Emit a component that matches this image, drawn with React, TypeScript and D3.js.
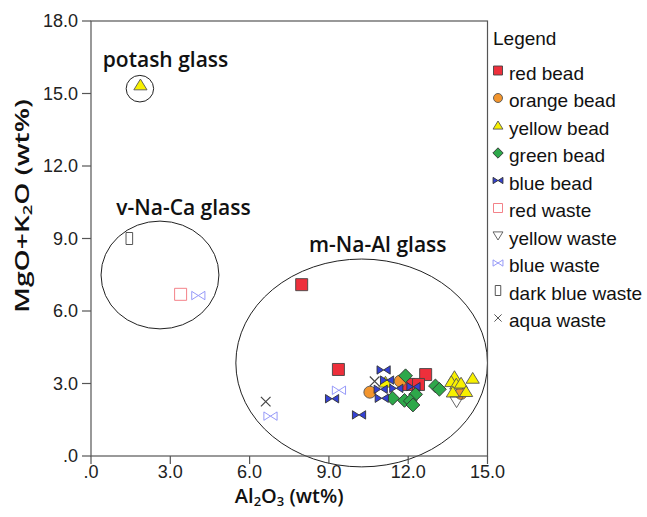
import React from 'react';
import * as d3 from 'd3';

// Al2O3 vs MgO+K2O scatter with glass-type ellipses.

const W = 647;
const H = 517;
const M = { left: 91, right: 487.5, top: 21, bottom: 456 };

type Pt = [number, number];

const RED_BEAD: Pt[] = [[7.97, 7.09], [9.36, 3.58], [12.66, 3.37], [12.01, 2.96], [12.39, 2.96]];
const ORANGE_BEAD: Pt[] = [[10.55, 2.64], [11.7, 3.1], [14.0, 2.59]];
const YELLOW_BEAD: Pt[] = [
  [1.87, 15.35], [13.75, 3.28], [14.44, 3.21], [13.63, 3.07], [13.82, 2.97],
  [14.0, 3.01], [13.69, 2.64], [14.19, 2.66], [11.14, 3.05],
];
const GREEN_BEAD: Pt[] = [
  [11.9, 3.32], [11.41, 2.39], [12.28, 2.55], [11.86, 2.3], [12.08, 2.28],
  [12.18, 2.11], [13.03, 2.9], [13.18, 2.76],
];
const BLUE_BEAD: Pt[] = [
  [9.12, 2.37], [10.14, 1.7], [11.07, 3.56], [11.2, 3.14], [10.96, 2.76],
  [11.55, 2.8], [11.0, 2.39], [12.2, 2.87],
];
const RED_WASTE: Pt[] = [[3.39, 6.69]];
const YELLOW_WASTE: Pt[] = [[13.83, 2.25]];
const BLUE_WASTE: Pt[] = [[4.06, 6.64], [9.38, 2.72], [6.79, 1.65]];
const DARK_BLUE_WASTE: Pt[] = [[1.45, 9.0]];
const AQUA_WASTE: Pt[] = [[6.61, 2.25], [10.73, 3.09]];

const X_TICKS = [0, 3, 6, 9, 12, 15];
const Y_TICKS = [0, 3, 6, 9, 12, 15, 18];

// glass groups: centre x, centre y, radius x, radius y (data units), label anchor
const GROUPS = [
  { label: 'potash glass', cx: 1.85, cy: 15.2, rx: 0.52, ry: 0.55, lx: 2.82, ly: 16.08 },
  { label: 'v-Na-Ca glass', cx: 2.61, cy: 7.49, rx: 2.23, ry: 2.23, lx: 3.5, ly: 9.97 },
  { label: 'm-Na-Al glass', cx: 10.24, cy: 3.85, rx: 4.76, ry: 4.3, lx: 10.85, ly: 8.45 },
];

type Kind = 'square' | 'circle' | 'triangle' | 'diamond' | 'bowtie' | 'openSquare' | 'invTriangle' | 'openBowtie' | 'tallRect' | 'cross';

const SERIES: { name: string; data: Pt[]; kind: Kind; fill: string; stroke: string }[] = [
  { name: 'red bead', data: RED_BEAD, kind: 'square', fill: '#ee2f3b', stroke: '#444' },
  { name: 'orange bead', data: ORANGE_BEAD, kind: 'circle', fill: '#f3952d', stroke: '#555' },
  { name: 'yellow bead', data: YELLOW_BEAD, kind: 'triangle', fill: '#f7f000', stroke: '#555' },
  { name: 'green bead', data: GREEN_BEAD, kind: 'diamond', fill: '#2ea84a', stroke: '#333' },
  { name: 'blue bead', data: BLUE_BEAD, kind: 'bowtie', fill: '#3441d4', stroke: '#333' },
  { name: 'red waste', data: RED_WASTE, kind: 'openSquare', fill: 'none', stroke: '#f2747c' },
  { name: 'yellow waste', data: YELLOW_WASTE, kind: 'invTriangle', fill: 'none', stroke: '#555' },
  { name: 'blue waste', data: BLUE_WASTE, kind: 'openBowtie', fill: 'none', stroke: '#8b8ff7' },
  { name: 'dark blue waste', data: DARK_BLUE_WASTE, kind: 'tallRect', fill: 'none', stroke: '#444' },
  { name: 'aqua waste', data: AQUA_WASTE, kind: 'cross', fill: 'none', stroke: '#444' },
];

function shapePath(kind: Kind, s: number): string {
  const h = s / 2;
  switch (kind) {
    case 'square':
    case 'openSquare':
      return `M${-h},${-h}H${h}V${h}H${-h}Z`;
    case 'circle':
      return `M${h},0A${h},${h} 0 1,1 ${-h},0A${h},${h} 0 1,1 ${h},0Z`;
    case 'triangle':
      return `M0,${-h}L${h * 1.1},${h * 0.8}H${-h * 1.1}Z`;
    case 'invTriangle':
      return `M0,${h}L${h * 1.1},${-h * 0.8}H${-h * 1.1}Z`;
    case 'diamond':
      return `M0,${-h * 1.15}L${h * 1.15},0L0,${h * 1.15}L${-h * 1.15},0Z`;
    case 'bowtie':
    case 'openBowtie':
      return `M${-h * 1.1},${-h * 0.7}L0,0L${-h * 1.1},${h * 0.7}ZM${h * 1.1},${-h * 0.7}L0,0L${h * 1.1},${h * 0.7}Z`;
    case 'tallRect':
      return `M${-h * 0.55},${-h}H${h * 0.55}V${h}H${-h * 0.55}Z`;
    case 'cross':
      return `M${-h * 0.8},${-h * 0.8}L${h * 0.8},${h * 0.8}M${h * 0.8},${-h * 0.8}L${-h * 0.8},${h * 0.8}`;
  }
}

const TICK_FONT = '"Liberation Sans", Arial, sans-serif';
const TITLE_FONT = '"Open Sans", "Noto Sans", sans-serif';

export default function App() {
  const x = d3.scaleLinear().domain([0, 15]).range([M.left, M.right]);
  const y = d3.scaleLinear().domain([0, 18]).range([M.bottom, M.top]);
  const fmt = (v: number) => (v === 0 ? '.0' : v.toFixed(1));

  return (
    <svg
      width={W}
      height={H}
      style={{ position: 'absolute', left: 0, top: 0, background: '#fff' }}
    >
      {/* ellipses */}
      {GROUPS.map((g) => (
        <g key={g.label}>
          <ellipse
            cx={x(g.cx)}
            cy={y(g.cy)}
            rx={x(g.cx + g.rx) - x(g.cx)}
            ry={y(g.cy) - y(g.cy + g.ry)}
            fill="none"
            stroke="#222"
            strokeWidth={1}
          />
          <text
            x={x(g.lx)}
            y={y(g.ly)}
            textAnchor="middle"
            fontFamily={TITLE_FONT}
            fontWeight={600}
            fontSize={21}
            fill="#111"
          >
            {g.label}
          </text>
        </g>
      ))}

      {/* frame */}
      <rect
        x={M.left}
        y={M.top}
        width={M.right - M.left}
        height={M.bottom - M.top}
        fill="none"
        stroke="#555"
        strokeWidth={1.2}
      />

      {/* x axis */}
      {X_TICKS.map((t) => (
        <g key={`x${t}`}>
          <line x1={x(t)} x2={x(t)} y1={M.bottom} y2={M.bottom + 8} stroke="#555" strokeWidth={1.2} />
          <text x={x(t)} y={M.bottom + 22} textAnchor="middle" fontFamily={TICK_FONT} fontSize={18} fill="#222">
            {fmt(t)}
          </text>
        </g>
      ))}
      <text x={(M.left + M.right) / 2} y={503} textAnchor="middle" fontFamily={TITLE_FONT} fontWeight={600} fontSize={20} fill="#111">
        Al<tspan fontSize={13} dy={3}>2</tspan>
        <tspan dy={-3}>O</tspan>
        <tspan fontSize={13} dy={3}>3</tspan>
        <tspan dy={-3}> (wt%)</tspan>
      </text>

      {/* y axis */}
      {Y_TICKS.map((t) => (
        <g key={`y${t}`}>
          <line x1={M.left - 9} x2={M.left} y1={y(t)} y2={y(t)} stroke="#555" strokeWidth={1.2} />
          <text x={M.left - 13} y={y(t) + 6} textAnchor="end" fontFamily={TICK_FONT} fontSize={18} fill="#222">
            {fmt(t)}
          </text>
        </g>
      ))}
      <text
        transform={`translate(29, 206) rotate(-90)`}
        textAnchor="middle"
        fontFamily={TITLE_FONT}
        fontWeight={600}
        fontSize={20}
        fill="#111"
        textLength={214}
        lengthAdjust="spacingAndGlyphs"
      >
        MgO+K<tspan fontSize={13} dy={3}>2</tspan>
        <tspan dy={-3}>O (wt%)</tspan>
      </text>

      {/* points */}
      {SERIES.map((s) =>
        s.data.map((d, i) => (
          <path
            key={`${s.name}-${i}`}
            d={shapePath(s.kind, s.kind === 'tallRect' ? 12 : 12)}
            transform={`translate(${x(d[0])},${y(d[1])})`}
            fill={s.fill}
            stroke={s.stroke}
            strokeWidth={s.kind === 'cross' ? 1.2 : 0.9}
          />
        )),
      )}

      {/* legend */}
      <text x={493} y={45} fontFamily={TICK_FONT} fontSize={19} fill="#111">
        Legend
      </text>
      {SERIES.map((s, i) => {
        const ly = 72.5 + i * 27.5;
        return (
          <g key={`lg-${s.name}`}>
            <path
              d={shapePath(s.kind, s.kind === 'tallRect' ? 10 : 9)}
              transform={`translate(498,${ly - 2})`}
              fill={s.fill}
              stroke={s.stroke}
              strokeWidth={0.9}
            />
            <text x={509} y={ly + 7} fontFamily={TICK_FONT} fontSize={19} fill="#111">
              {s.name}
            </text>
          </g>
        );
      })}
    </svg>
  );
}
